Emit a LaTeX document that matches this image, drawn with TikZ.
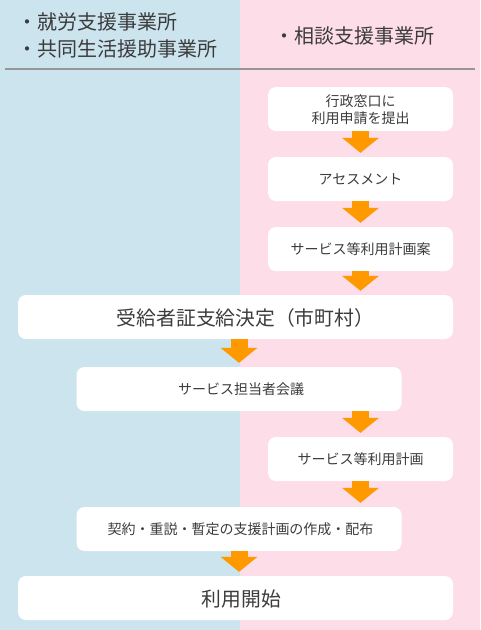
\documentclass[tikz,border=0pt]{standalone}
\usepackage{fontspec}
\setmainfont{Noto Sans CJK JP}
\usetikzlibrary{arrows.meta}
\definecolor{leftbg}{RGB}{204,228,238}
\definecolor{rightbg}{RGB}{253,221,232}
\definecolor{floworange}{RGB}{255,153,0}
\definecolor{textgray}{RGB}{60,60,60}
\definecolor{rulegray}{RGB}{150,150,150}

\begin{document}
\begin{tikzpicture}[x=1pt,y=-1pt,
  box/.style={fill=white,rounded corners=8pt,text=textgray,align=center,
    font=\fontsize{14}{17.5}\selectfont,minimum height=44pt,inner sep=0pt,
    text depth=0pt},
  bigbox/.style={box,font=\fontsize{19.8}{22}\selectfont},
  head/.style={anchor=west,align=left,inner sep=0pt,text=textgray,
    font=\fontsize{20}{27}\selectfont},
  flow/.style={color=floworange,line width=17pt,shorten >=4pt,
    -{Triangle[width=37pt,length=15pt,line width=0pt,fill=floworange]}}]
\fill[leftbg] (0,0) rectangle (240,630);
\fill[rightbg] (240,0) rectangle (480,630);
\draw[rulegray,line width=2pt] (5,69) -- (475,69);
\node[head] (lefthead) at (17,35.5) {・就労支援事業所\\・共同生活援助事業所};
\node[head] (righthead) at (274,35.5) {・相談支援事業所};
\node[box,minimum width=185pt] (apply) at (360.5,109) {行政窓口に\\利用申請を提出};
\node[box,minimum width=185pt] (assess) at (360.5,179) {アセスメント};
\node[box,minimum width=185pt] (draft) at (360.5,249) {サービス等利用計画案};
\node[bigbox,minimum width=435pt] (decide) at (235.5,317) {\hspace*{20pt}受給者証支給決定（市町村）};
\node[box,minimum width=325pt] (meeting) at (239,389) {\hspace*{4pt}サービス担当者会議};
\node[box,minimum width=185pt] (plan) at (360.5,459) {サービス等利用計画};
\node[box,minimum width=325pt] (contract) at (239,529) {\hspace*{3pt}契約・重説・暫定の支援計画の作成・配布};
\node[bigbox,minimum width=435pt] (start) at (235.5,598) {\hspace*{12pt}利用開始};
\path[flow]
(apply.south) edge (assess.north)
(assess.south) edge (draft.north)
(draft.south) edge (draft.south |- decide.north)
(decide.south -| meeting.north) edge (meeting.north)
(meeting.south -| plan.north) edge (plan.north)
(plan.south) edge (plan.south |- contract.north)
(contract.south) edge (contract.south |- start.north);
\end{tikzpicture}
\end{document}
